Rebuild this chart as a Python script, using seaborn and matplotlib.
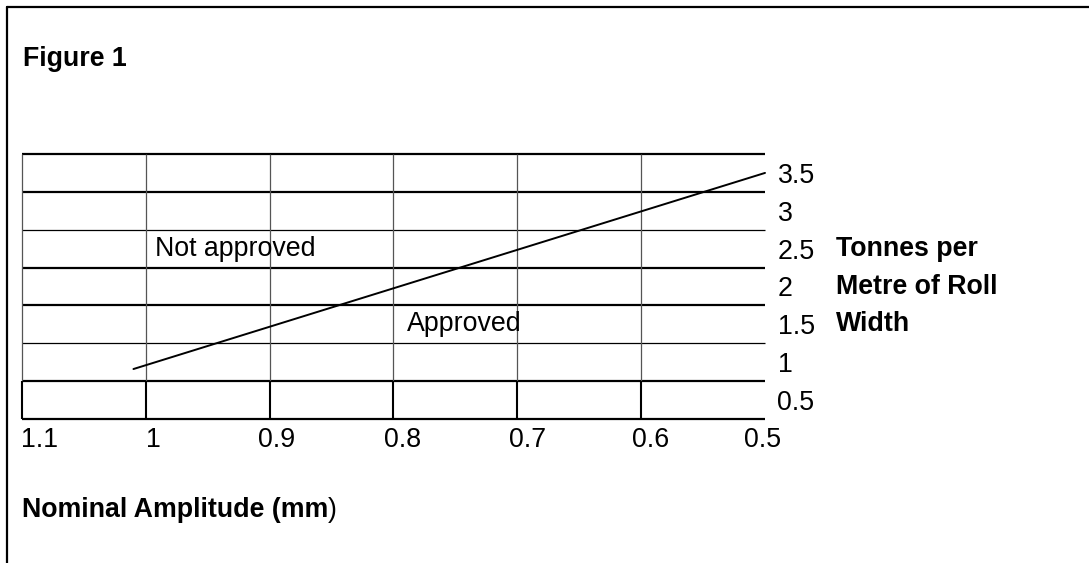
import numpy as np
import pandas as pd
import seaborn as sns
import matplotlib.pyplot as plt
from matplotlib.lines import Line2D
from matplotlib.transforms import ScaledTranslation, blended_transform_factory

# data
amplitude = [1.01, 0.5]
tonnes = [0.91, 3.5]
x_ticks = [1.1, 1.0, 0.9, 0.8, 0.7, 0.6, 0.5]
x_labels = ["1.1", "1", "0.9", "0.8", "0.7", "0.6", "0.5"]
y_ticks = [0.5, 1.0, 1.5, 2.0, 2.5, 3.0, 3.5]
y_labels = ["0.5", "1", "1.5", "2", "2.5", "3", "3.5"]
grid_x = [1.1, 1.0, 0.9, 0.8, 0.7, 0.6]
grid_y_thick = [0.25, 0.75, 1.75, 2.25, 3.25, 3.75]
grid_y_thin = [1.25, 2.75]
ylabel_lines = ["Tonnes per", "Metre of Roll", "Width"]
ylabel_rows = [2.5, 2.0, 1.5]

sns.set_style("white")
plt.rcParams['font.family'] = ['Liberation Sans', 'DejaVu Sans']
plt.rcParams['text.color'] = 'black'
plt.rcParams['xtick.color'] = 'black'
plt.rcParams['ytick.color'] = 'black'
plt.rcParams['xtick.labelcolor'] = 'black'
plt.rcParams['ytick.labelcolor'] = 'black'
fs = 19.3

df = pd.DataFrame({"amp": amplitude, "t": tonnes})

fig = plt.figure(figsize=(10.89, 5.63), dpi=100)
ax = fig.add_axes([22/1089, 1-419/563, 743/1089, 265/563])

# grid
ax.hlines(grid_y_thick, 1.1, 0.5, color="black", lw=1.6, clip_on=False)
ax.hlines(grid_y_thin, 1.1, 0.5, color="black", lw=0.9, clip_on=False)
ax.vlines(grid_x, 0.75, 3.75, color="#555555", lw=0.9, clip_on=False)
ax.vlines(grid_x, 0.25, 0.75, color="black", lw=1.5, clip_on=False)

sns.lineplot(data=df, x="amp", y="t", color="black", lw=1.4, ax=ax, clip_on=False)

ax.set_xlim(1.1, 0.5)
ax.set_ylim(0.25, 3.75)
for s in ax.spines.values():
    s.set_visible(False)
ax.set_xlabel("")
ax.set_ylabel("")

ax.set_xticks(x_ticks)
ax.set_xticklabels(x_labels, fontsize=fs)
ax.yaxis.tick_right()
ax.set_yticks(y_ticks)
ax.set_yticklabels(y_labels, fontsize=fs)
ax.tick_params(axis="both", length=0)
ax.tick_params(axis="x", pad=6)
ax.tick_params(axis="y", pad=9)

# x labels are not quite centred on their lines
shifts = [18, 8, 7, 9, 10, 9, -2]
for lab, dx in zip(ax.get_xticklabels(), shifts):
    lab.set_transform(lab.get_transform() + ScaledTranslation(dx/100, 0, fig.dpi_scale_trans))

ax.text(0.993, 2.5, "Not approved", fontsize=fs, va="center", ha="left")
ax.text(0.7895, 1.5, "Approved", fontsize=fs, va="center", ha="left")

tr = blended_transform_factory(ax.transAxes, ax.transData)
for txt, yv in zip(ylabel_lines, ylabel_rows):
    ax.text((836-22)/743, yv, txt, transform=tr, fontsize=fs, fontweight="bold",
            va="center", ha="left")

fig.text(23/1089, 1-66/563, "Figure 1", fontsize=fs, fontweight="bold", va="baseline")
t = fig.text(22/1089, 1-517/563, "Nominal Amplitude (mm", fontsize=fs,
             fontweight="bold", va="baseline")
ax.annotate(")", xy=(1, 0), xycoords=t, fontsize=fs, va="bottom", ha="left")

# page frame
fig.add_artist(Line2D([7/1089, 1], [1-7/563, 1-7/563], color="black", lw=1.6))
fig.add_artist(Line2D([7/1089, 7/1089], [0, 1-7/563], color="black", lw=1.6))

plt.savefig("out.png", dpi=100)
